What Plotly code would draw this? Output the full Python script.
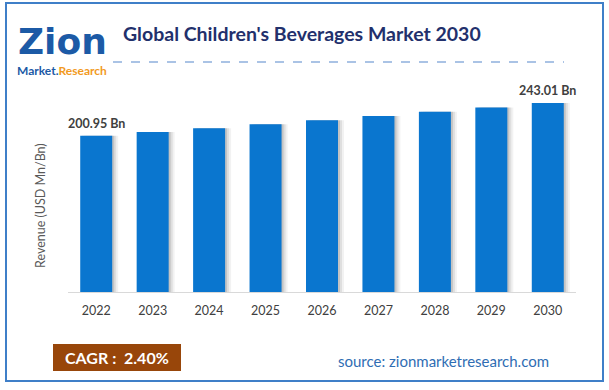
import plotly.graph_objects as go

years = ["2022", "2023", "2024", "2025", "2026", "2027", "2028", "2029", "2030"]
revenue = [200.95, 205.8, 210.7, 215.8, 220.9, 226.2, 231.7, 237.3, 243.01]
value_labels = ["200.95 Bn", "", "", "", "", "", "", "", "243.01 Bn"]
title_text = "Global Children's Beverages Market 2030"
y_title = "Revenue (USD Mn/Bn)"
cagr_text = "CAGR :  2.40%"
source_text = "source: zionmarketresearch.com"

W, H = 609, 390
L, R, T, B = 68, 33, 80, 98
BAR_W = 0.567
PX = 1 / 56.4  # category units per pixel
PW, PH = W - L - R, H - T - B

fig = go.Figure()
# soft shadow on the right of bars
for dx, col in [(6, "rgba(0,0,0,0.05)"), (4, "rgba(0,0,0,0.08)"), (2, "rgba(0,0,0,0.12)")]:
    fig.add_trace(go.Bar(
        x=years, y=revenue, width=BAR_W, offset=-BAR_W / 2 + dx * PX,
        marker=dict(color=col, line=dict(width=0)), hoverinfo="skip", showlegend=False))
fig.add_trace(go.Bar(
    x=years, y=revenue, width=BAR_W, offset=-BAR_W / 2,
    marker=dict(color="#0a76cf", line=dict(width=0)), showlegend=False))

for i, (v, lab) in enumerate(zip(revenue, value_labels)):
    if lab:
        fig.add_annotation(x=i, y=v, xref="x", yref="y", text=f"<b>{lab}</b>",
                           showarrow=False, xanchor="center", yanchor="bottom", yshift=3,
                           font=dict(family="Lato", size=12.5, color="#404040"))

fig.update_layout(
    width=W, height=H, barmode="overlay",
    margin=dict(l=L, r=R, t=T, b=B),
    paper_bgcolor="white", plot_bgcolor="white",
    font=dict(family="Lato", color="#404040"),
    xaxis=dict(type="category", range=[-0.5, 8.5], showline=True, linecolor="#d9d9d9",
               linewidth=1, showgrid=False, ticks="outside", ticklen=7,
               tickcolor="rgba(0,0,0,0)", tickfont=dict(family="Lato", size=12.5, color="#404040")),
    yaxis=dict(range=[0, 272.6], showgrid=False, showticklabels=False, zeroline=False,
               showline=False),
)

def fx(p):
    return (p - L) / PW

def fy(p):
    return (H - B - p) / PH

# y-axis title
fig.add_annotation(xref="paper", yref="paper", x=fx(40), y=fy(206),
                   text=y_title, textangle=-90, showarrow=False,
                   xanchor="center", yanchor="middle",
                   font=dict(family="Lato", size=12.5, color="#595959"))

shapes = [
    # outer border
    dict(type="rect", xref="paper", yref="paper", layer="above",
         x0=fx(6), x1=fx(603), y0=fy(381), y1=fy(3),
         line=dict(color="#3f7fc8", width=2)),
    # dashed separator
    dict(type="line", xref="paper", yref="paper",
         x0=fx(113), x1=fx(564), y0=fy(62), y1=fy(62),
         line=dict(color="#8fb0dd", width=1.3, dash="dash")),
    # CAGR box
    dict(type="rect", xref="paper", yref="paper",
         x0=fx(53), x1=fx(181), y0=fy(371), y1=fy(344),
         fillcolor="#98460a", line=dict(width=0)),
]
fig.update_layout(shapes=shapes)

def ann(x, y, text, size, color, xanchor="left", bold=True, family="Lato"):
    fig.add_annotation(xref="paper", yref="paper", x=fx(x), y=fy(y),
                       text=f"<b>{text}</b>" if bold else text, showarrow=False,
                       xanchor=xanchor, yanchor="middle",
                       font=dict(family=family, size=size, color=color))

ann(121, 33, title_text, 19.5, "#22306c")
ann(117, 357, cagr_text, 16, "white", xanchor="center")
ann(443, 361, source_text, 15, "#2f6db3", xanchor="center", bold=False)
# logo text
ann(62, 41, "Zion", 36, "#1c5aa6", xanchor="center", family="DejaVu Sans")
ann(62, 70.5, "Market.<span style='color:#f29a1e'>Research</span>", 12, "#1c5aa6",
    xanchor="center")

fig.write_html("out.html", config={"displayModeBar": False},
               post_script="document.body.style.margin='0';")
